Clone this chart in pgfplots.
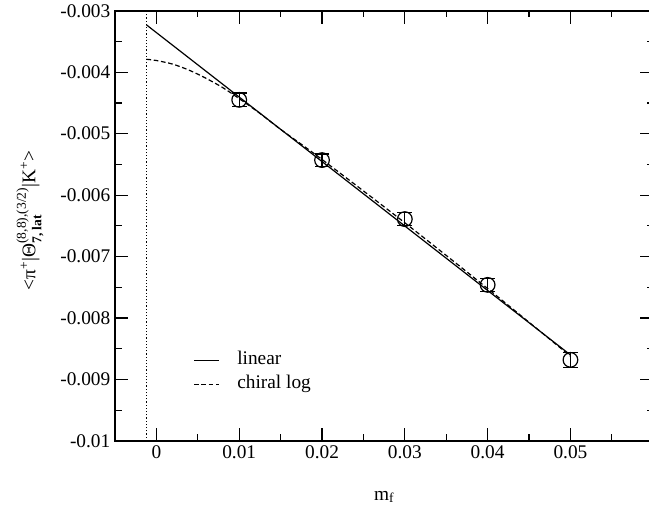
\documentclass[border=0pt]{standalone}
\usepackage{fontspec}
\setmainfont{Liberation Serif}
\usepackage{amsmath}
\usepackage{pgfplots}
\pgfplotsset{compat=1.18}
\pgfplotstableread{
x y e
0.01 -0.00445 0.00011
0.02 -0.00543 0.00010
0.03 -0.00639 0.00011
0.04 -0.00746 0.00011
0.05 -0.00868 0.00012
}\datapts
\begin{document}
\begin{tikzpicture}
\useasboundingbox (0pt,0pt) rectangle (486.75pt,381pt);
\begin{axis}[
  at={(86.25pt,50.25pt)}, anchor=south west,
  scale only axis, width=403.7pt, height=322.7pt,
  xmin=-0.005, xmax=0.06, ymin=-0.01, ymax=-0.003,
  xtick={0,0.01,0.02,0.03,0.04,0.05},
  minor xtick={-0.005,0.005,0.015,0.025,0.035,0.045,0.055},
  ytick={-0.01,-0.009,-0.008,-0.007,-0.006,-0.005,-0.004,-0.003},
  minor ytick={-0.0095,-0.0085,-0.0075,-0.0065,-0.0055,-0.0045,-0.0035},
  xtick pos=both, ytick pos=both,
  tick align=inside,
  major tick length=9.75pt, minor tick length=5pt,
  scaled ticks=false,
  /pgf/number format/assume math mode=true,
  xticklabel style={/pgf/number format/fixed, /pgf/number format/precision=3},
  yticklabel style={/pgf/number format/fixed, /pgf/number format/precision=3},
  font=\fontsize{14.5}{17}\selectfont,
  ticklabel style={font=\fontsize{14.5}{17}\selectfont},
  axis line style={line width=1.3pt},
  every tick/.style={black, line width=0.9pt},
  xlabel={m\textsubscript{f}},
  xlabel style={at={(axis description cs:0.5,0)}, anchor=base, yshift=-44.25pt},
  ylabel={\textless π\textsuperscript{+}|Θ$^{\text{(8,8),(3/2)}}_{\textbf{7, lat}}$|K\textsuperscript{+}\textgreater},
  ylabel style={at={(axis description cs:-0.158,0.513)}, anchor=center},
  legend cell align=left,
  legend image code/.code={\draw[#1] (0pt,0pt) -- (19pt,0pt);},
  legend style={draw=none, fill=none, at={(axis cs:0.0046,-0.00888)}, anchor=west, xshift=-4pt,
    font=\fontsize{14.5}{17}\selectfont,
    nodes={inner sep=1pt, text height=10pt, text depth=3pt},
    row sep=3pt,
    /tikz/every odd column/.append style={column sep=12pt}},
]
\addplot[black, line width=0.9pt, dash pattern=on 0.9pt off 1.5pt, forget plot] coordinates {(-0.0012,-0.01) (-0.0012,-0.003)};
\addplot[black, line width=0.9pt] coordinates {(-0.0012,-0.00323) (0.05,-0.00860)};
\addlegendentry{linear}
\addplot[black, line width=0.9pt, dash pattern=on 3.5pt off 2pt, smooth] coordinates {
(-0.0012,-0.00379) (0.0,-0.00381) (0.002,-0.00387) (0.004,-0.00397) (0.006,-0.00410)
(0.008,-0.00425) (0.010,-0.00443) (0.0125,-0.00467) (0.015,-0.00493) (0.02,-0.00542)
(0.03,-0.00645) (0.04,-0.00752) (0.05,-0.00862)};
\addlegendentry{chiral log}
\addplot[black, only marks, mark=o, mark size=5.5pt, mark options={line width=0.9pt}, forget plot,
  error bars/.cd, y dir=both, y explicit,
  error bar style={line width=0.9pt},
  error mark options={mark size=5.6pt, line width=0.9pt, rotate=90}]
  table[x=x, y=y, y error=e] {\datapts};
\end{axis}
\end{tikzpicture}
\end{document}
